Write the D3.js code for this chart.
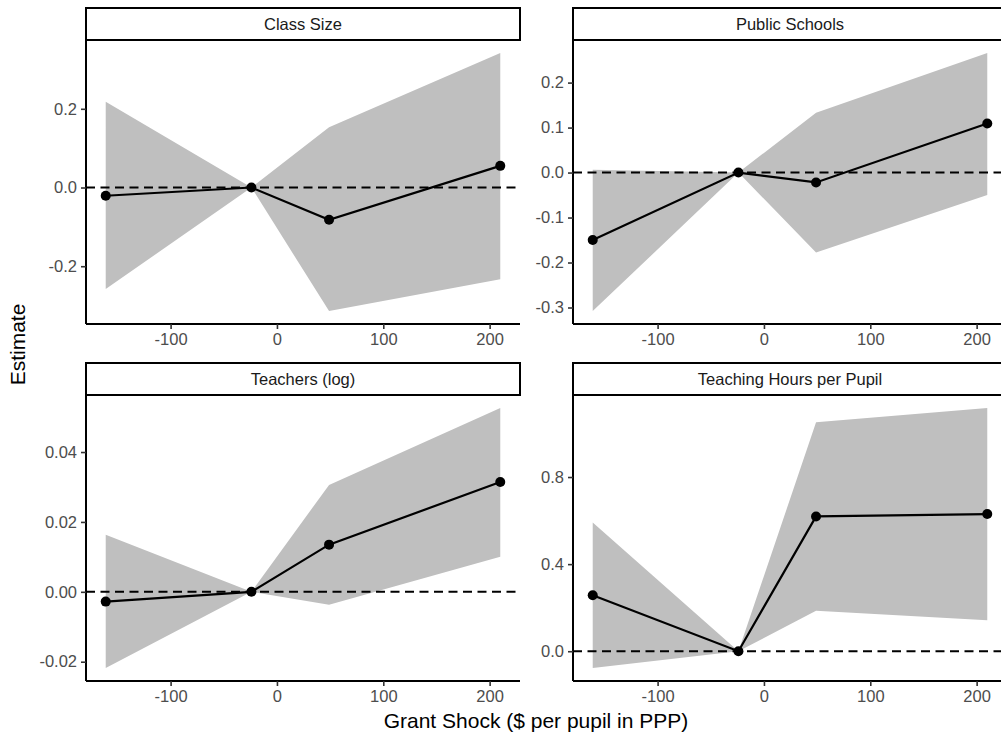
<!DOCTYPE html>
<html>
<head>
<meta charset="utf-8">
<script src="https://cdn.jsdelivr.net/npm/d3@7"></script>
<style>
  html, body { margin: 0; padding: 0; background: #fff; }
  svg { display: block; }
  text { font-family: "Liberation Sans", Arial, sans-serif; }
</style>
</head>
<body>
<svg id="chart" width="1001" height="736"></svg>
<script>
// ---- data ----
const xValues = [-161, -24, 49, 210];
const xTicks = [-100, 0, 100, 200];
const xTickLabels = ["-100", "0", "100", "200"];

const panelTitles = ["Class Size", "Public Schools", "Teachers (log)", "Teaching Hours per Pupil"];

const classSizeEst = [-0.021, 0, -0.082, 0.055];
const classSizeLo  = [-0.258, 0, -0.314, -0.233];
const classSizeHi  = [0.218, 0, 0.153, 0.342];
const classSizeTicks = [-0.2, 0, 0.2];
const classSizeTickLabels = ["-0.2", "0.0", "0.2"];

const publicSchoolsEst = [-0.150, 0, -0.022, 0.109];
const publicSchoolsLo  = [-0.308, 0, -0.178, -0.050];
const publicSchoolsHi  = [0.006, 0, 0.133, 0.266];
const publicSchoolsTicks = [-0.3, -0.2, -0.1, 0, 0.1, 0.2];
const publicSchoolsTickLabels = ["-0.3", "-0.2", "-0.1", "0.0", "0.1", "0.2"];

const teachersEst = [-0.0028, 0, 0.0135, 0.0314];
const teachersLo  = [-0.0218, 0, -0.0037, 0.0100];
const teachersHi  = [0.0163, 0, 0.0306, 0.0526];
const teachersTicks = [-0.02, 0, 0.02, 0.04];
const teachersTickLabels = ["-0.02", "0.00", "0.02", "0.04"];

const hoursEst = [0.257, 0, 0.619, 0.630];
const hoursLo  = [-0.077, 0, 0.186, 0.142];
const hoursHi  = [0.591, 0, 1.051, 1.117];
const hoursTicks = [0, 0.4, 0.8];
const hoursTickLabels = ["0.0", "0.4", "0.8"];

const xLabel = "Grant Shock ($ per pupil in PPP)";
const yLabel = "Estimate";

// ---- build panels ----
const panelData = [
  { title: panelTitles[0], est: classSizeEst, lo: classSizeLo, hi: classSizeHi, ticks: classSizeTicks, labels: classSizeTickLabels },
  { title: panelTitles[1], est: publicSchoolsEst, lo: publicSchoolsLo, hi: publicSchoolsHi, ticks: publicSchoolsTicks, labels: publicSchoolsTickLabels },
  { title: panelTitles[2], est: teachersEst, lo: teachersLo, hi: teachersHi, ticks: teachersTicks, labels: teachersTickLabels },
  { title: panelTitles[3], est: hoursEst, lo: hoursLo, hi: hoursHi, ticks: hoursTicks, labels: hoursTickLabels }
];

const layout = {
  colX: [86, 573], panelW: 434,
  rows: [ { stripTop: 8, top: 40, bottom: 324 }, { stripTop: 363, top: 395, bottom: 681 } ]
};

const svg = d3.select("#chart");

function expand(ext) {
  const r = ext[1] - ext[0];
  return [ext[0] - 0.05 * r, ext[1] + 0.05 * r];
}

const xDom = expand(d3.extent(xValues));

panelData.forEach((p, i) => {
  const col = i % 2, row = Math.floor(i / 2);
  const x0 = layout.colX[col], x1 = x0 + layout.panelW;
  const R = layout.rows[row];
  const g = svg.append("g");

  const x = d3.scaleLinear().domain(xDom).range([x0, x1]);
  const yDom = expand([d3.min(p.lo), d3.max(p.hi)]);
  const y = d3.scaleLinear().domain(yDom).range([R.bottom, R.top]);

  const pts = xValues.map((xv, k) => ({ x: xv, est: p.est[k], lo: p.lo[k], hi: p.hi[k] }));

  // ribbon
  g.append("path")
    .datum(pts)
    .attr("fill", "#bfbfbf")
    .attr("d", d3.area().x(d => x(d.x)).y0(d => y(d.lo)).y1(d => y(d.hi)));

  // zero dashed line
  g.append("line")
    .attr("x1", x0).attr("x2", x1)
    .attr("y1", y(0)).attr("y2", y(0))
    .attr("stroke", "#000").attr("stroke-width", 2)
    .attr("stroke-dasharray", "9,5.5");

  // estimate line
  g.append("path")
    .datum(pts)
    .attr("fill", "none").attr("stroke", "#000").attr("stroke-width", 2.2)
    .attr("d", d3.line().x(d => x(d.x)).y(d => y(d.est)));

  g.selectAll("circle.pt").data(pts).enter().append("circle")
    .attr("class", "pt")
    .attr("cx", d => x(d.x)).attr("cy", d => y(d.est)).attr("r", 5)
    .attr("fill", "#000");

  // axes
  const xAxis = d3.axisBottom(x).tickValues(xTicks).tickFormat((d, k) => xTickLabels[k]).tickSize(5).tickPadding(4);
  const gx = g.append("g").attr("transform", `translate(0,${R.bottom})`).call(xAxis);
  const yAxis = d3.axisLeft(y).tickValues(p.ticks).tickFormat((d, k) => p.labels[k]).tickSize(5).tickPadding(4);
  const gy = g.append("g").attr("transform", `translate(${x0},0)`).call(yAxis);

  [gx, gy].forEach(ax => {
    ax.select(".domain").attr("stroke", "#000").attr("stroke-width", 2);
    ax.selectAll(".tick line").attr("stroke", "#333").attr("stroke-width", 1.6);
    ax.selectAll(".tick text").attr("fill", "#4d4d4d").style("font-size", "16.5px")
      .style("font-family", '"Liberation Sans", Arial, sans-serif');
  });
  gx.select(".domain").attr("d", `M${x0},0H${x1}`);
  gy.select(".domain").attr("d", `M0,${R.bottom}V${R.top}`);

  // strip
  g.append("rect")
    .attr("x", x0).attr("y", R.stripTop)
    .attr("width", layout.panelW).attr("height", R.top - R.stripTop)
    .attr("fill", "#fff").attr("stroke", "#000").attr("stroke-width", 2);
  g.append("text")
    .attr("x", (x0 + x1) / 2).attr("y", (R.stripTop + R.top) / 2 + 6)
    .attr("text-anchor", "middle").attr("fill", "#1a1a1a")
    .style("font-size", "16.5px")
    .text(p.title);
});

// axis titles
svg.append("text")
  .attr("x", 536).attr("y", 728)
  .attr("text-anchor", "middle").attr("fill", "#000")
  .style("font-size", "21px")
  .text(xLabel);

svg.append("text")
  .attr("transform", "translate(25,344.5) rotate(-90)")
  .attr("text-anchor", "middle").attr("fill", "#000")
  .style("font-size", "21px")
  .text(yLabel);
</script>
</body>
</html>
